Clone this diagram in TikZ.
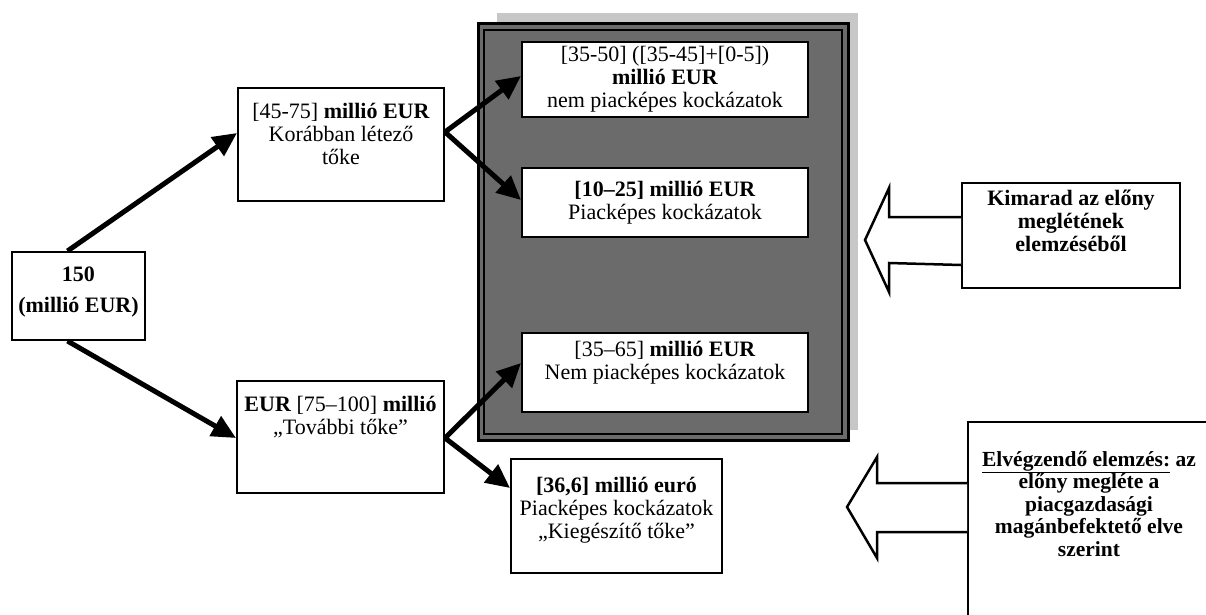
\documentclass[tikz,border=0pt]{standalone}
\usepackage{fontspec}
\setmainfont{Liberation Serif}
\usetikzlibrary{arrows.meta,calc}
\begin{document}
\begin{tikzpicture}[x=1pt,y=-1pt,
  every node/.style={font=\fontsize{22}{23}\selectfont},
  box/.style={draw,line width=2pt,fill=white,inner sep=0pt,align=center},
  txt/.style={inner sep=0pt,align=center,anchor=north},
  arr/.style={line width=5pt,-{Triangle[length=24pt,width=22pt]}},
  bigarrow/.style={draw,line width=2.5pt,fill=white,line join=miter}]
\useasboundingbox (0,0) rectangle (1206,615);
\fill[white] (0,0) rectangle (1206,615);

% shaded frame
\fill[black!22] (497,13) rectangle (858,430);
\filldraw[fill=black!58,draw=black,line width=3pt] (478,24) rectangle (848,440);
\draw[line width=2pt] (484,30) rectangle (842,434);

% boxes
\node[box,minimum width=133pt,minimum height=88pt] (n150) at (78.5,296) {};
\node[txt,font=\fontsize{22}{23}\selectfont\bfseries] (t150) at (78.5,267) {150\\[8pt](millió EUR)};
\node[box,minimum width=206pt,minimum height=113pt] (nK) at (341,144.5) {};
\node[txt] (tK) at (341,103) {[45-75] \textbf{millió EUR}\\Korábban létező\\tőke};
\node[box,minimum width=207pt,minimum height=112pt] (nE) at (340.5,437) {};
\node[txt] (tE) at (340.5,396) {\textbf{EUR} [75–100] \textbf{millió}\\„További tőke”};

\node[box,minimum width=286pt,minimum height=75pt] (A) at (665,79.5) {[35-50] ([35-45]+[0-5])\\\textbf{millió EUR}\\nem piacképes kockázatok};
\node[box,minimum width=286pt,minimum height=69pt] (B) at (665,202.5) {\textbf{[10–25] millió EUR}\\Piacképes kockázatok};
\node[box,minimum width=286pt,minimum height=79pt] (C) at (665,372.5) {};
\node[txt] (tC) at (665,341) {[35–65] \textbf{millió EUR}\\Nem piacképes kockázatok};
\node[box,minimum width=211pt,minimum height=114pt] (D) at (616.5,516) {};
\node[txt] (tD) at (616.5,477) {\textbf{[36,6] millió euró}\\Piacképes kockázatok\\„Kiegészítő tőke”};

\node[box,minimum width=218pt,minimum height=105pt] (kim) at (1071,235.5) {};
\node[txt,font=\fontsize{22}{23}\selectfont\bfseries] (tkim) at (1071,190) {Kimarad az előny\\meglétének\\elemzéséből};

\begin{scope}
\clip (0,0) rectangle (1206,615);
\node[box,minimum width=260pt,minimum height=230pt,anchor=north west] (el) at (967,421) {};
\end{scope}
\node[txt,font=\fontsize{21.5}{22.5}\selectfont\bfseries] (tel) at (1089,451) {\underline{Elvégzendő elemzés:} az\\előny megléte a\\piacgazdasági\\magánbefektető elve\\szerint};

% big hollow arrows
\draw[bigarrow] ($(kim.west)+(0,-18.5)$) -- ++(-72,0) -- ++(0,-29) -- ++(-24,52) -- ++(24,52) -- ++(0,-29) -- ($(kim.west)+(0,29.5)$);
\draw[bigarrow] ($(el.north west)+(0,62)$) -- ++(-90,0) -- ++(0,-26) -- ++(-30,50) -- ++(30,51) -- ++(0,-26) -- ($(el.north west)+(0,111)$);

% connectors
\draw[arr] ($(n150.north)+(-11,0)$) -- ($(nK.west)+(0,-11.5)$);
\draw[arr] ($(n150.south)+(-11,0)$) -- ($(nE.west)+(0,1)$);
\draw[arr] ($(nK.east)+(0,-12.5)$) -- ($(A.west)+(0,-3.5)$);
\draw[arr] ($(nK.east)+(0,-12.5)$) -- ($(B.west)+(0,-2.5)$);
\draw[arr] ($(nE.east)+(0,1)$) -- ($(C.west)+(0,-9.5)$);
\draw[arr] ($(nE.east)+(0,1)$) -- ($(D.west)+(0,-28)$);
\end{tikzpicture}
\end{document}
